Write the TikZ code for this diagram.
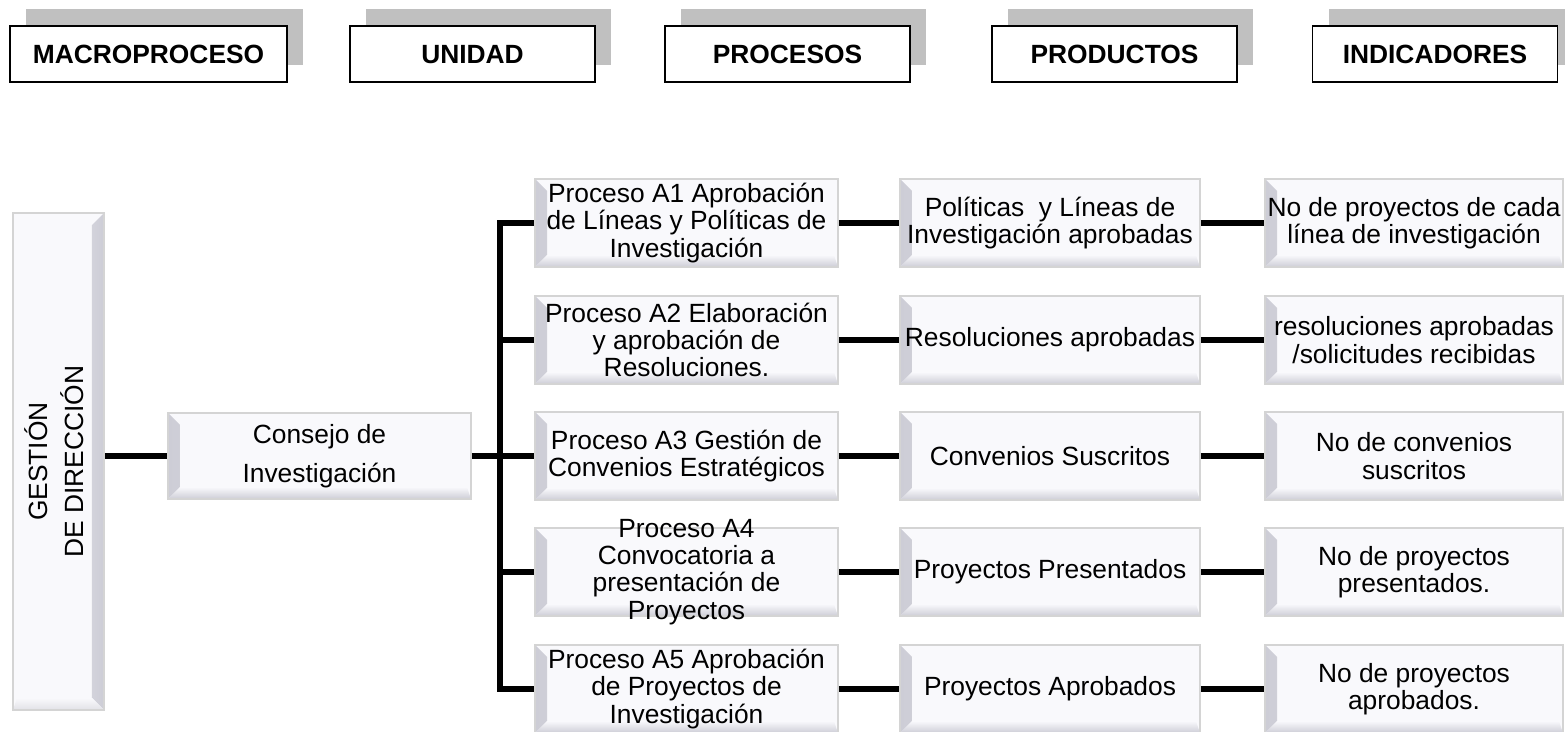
\documentclass[tikz,border=0pt]{standalone}
\usepackage{fontspec}
\setmainfont{Liberation Sans}
\usetikzlibrary{shadows}
\definecolor{boxfill}{HTML}{F9F9FC}
\definecolor{bevdark}{HTML}{CDCDD6}
\definecolor{boxedge}{HTML}{D4D4D4}
\definecolor{headshadow}{HTML}{C0C0C0}
\tikzset{
  headbox/.style={draw=black, line width=0.9pt, fill=white,
    font=\bfseries\fontsize{15}{18}\selectfont,
    text height=10.7pt, text depth=0pt,
    minimum width=4.9cm, minimum height=1.12cm,
    drop shadow={shadow xshift=0.32cm, shadow yshift=0.34cm,
      fill=headshadow, opacity=1, draw=none}},
  bevelbox/.style={draw=boxedge, line width=1pt, fill=boxfill, align=center,
    inner sep=1pt, font=\fontsize{15}{15.5}\selectfont,
    minimum width=6.06cm, minimum height=1.76cm,
    path picture={
      \shade[left color=bevdark, right color=boxfill]
        (path picture bounding box.north west) -- ++(0.24cm,-0.24cm)
        -- ([shift={(0.24cm,0.24cm)}]path picture bounding box.south west)
        -- (path picture bounding box.south west) -- cycle;
      \shade[bottom color=bevdark, top color=boxfill]
        (path picture bounding box.south west)
        -- ([shift={(0.24cm,0.24cm)}]path picture bounding box.south west)
        -- ([shift={(-0.08cm,0.24cm)}]path picture bounding box.south east)
        -- (path picture bounding box.south east) -- cycle;
    }},
  bevelv/.style={draw=boxedge, line width=1pt, fill=boxfill, align=center,
    inner sep=1pt, font=\fontsize{15}{20}\selectfont,
    minimum width=1.82cm, minimum height=9.94cm,
    path picture={
      \shade[right color=bevdark, left color=boxfill]
        (path picture bounding box.north east) -- ++(-0.24cm,-0.24cm)
        -- ([shift={(-0.24cm,0.24cm)}]path picture bounding box.south east)
        -- (path picture bounding box.south east) -- cycle;
      \shade[bottom color=bevdark!60, top color=boxfill]
        (path picture bounding box.south west)
        -- ([shift={(0.08cm,0.24cm)}]path picture bounding box.south west)
        -- ([shift={(-0.24cm,0.24cm)}]path picture bounding box.south east)
        -- (path picture bounding box.south east) -- cycle;
    }},
  link/.style={line width=3.2pt},
}
\begin{document}
\begin{tikzpicture}[x=0.02cm,y=-0.02cm]
\useasboundingbox (0,0) rectangle (1565,731);

\node[headbox, minimum width=5.54cm] (hmacro) at (148.5,54) {MACROPROCESO};
\node[headbox] (hunidad) at (472.5,54) {UNIDAD};
\node[headbox] (hproc) at (787.5,54) {PROCESOS};
\node[headbox] (hprod) at (1114.5,54) {PRODUCTOS};
\node[headbox] (hind) at (1435,54) {INDICADORES};

\node[bevelv] (gestion) at (58.5,461.5)
  {\rotatebox{90}{\begin{tabular}{@{}c@{}}GESTIÓN\\ DE DIRECCIÓN\end{tabular}}};
\node[bevelbox, minimum height=1.72cm, font=\fontsize{15}{22}\selectfont] (consejo) at (319.5,456)
  {Consejo de\\ Investigación};

\node[bevelbox] (procA1) at (686.5,223) {Proceso A1 Aprobación\\ de Líneas y Políticas de\\ Investigación};
\node[bevelbox] (procA2) at (686.5,340) {Proceso A2 Elaboración\\ y aprobación de\\ Resoluciones.};
\node[bevelbox] (procA3) at (686.5,456) {Proceso A3 Gestión de\\ Convenios Estratégicos};
\node[bevelbox, inner ysep=-0.25cm] (procA4) at (686.5,572) {Proceso A4\\ Convocatoria a\\ presentación de\\ Proyectos};
\node[bevelbox] (procA5) at (686.5,689) {Proceso A5 Aprobación\\ de Proyectos de\\ Investigación};

\node[bevelbox, minimum width=6cm] (prodA1) at (1050,223) {Políticas~ y Líneas de\\ Investigación aprobadas};
\node[bevelbox, minimum width=6cm] (prodA2) at (1050,340) {Resoluciones aprobadas};
\node[bevelbox, minimum width=6cm] (prodA3) at (1050,456) {Convenios Suscritos};
\node[bevelbox, minimum width=6cm] (prodA4) at (1050,572) {Proyectos Presentados};
\node[bevelbox, minimum width=6cm] (prodA5) at (1050,689) {Proyectos Aprobados};

\node[bevelbox, minimum width=5.96cm] (indA1) at (1414,223) {No de proyectos de cada\\ línea de investigación};
\node[bevelbox, minimum width=5.96cm] (indA2) at (1414,340) {resoluciones aprobadas\\ /solicitudes recibidas};
\node[bevelbox, minimum width=5.96cm] (indA3) at (1414,456) {No de convenios\\ suscritos};
\node[bevelbox, minimum width=5.96cm] (indA4) at (1414,572) {No de proyectos\\ presentados.};
\node[bevelbox, minimum width=5.96cm] (indA5) at (1414,689) {No de proyectos\\ aprobados.};

\coordinate (bus) at (500,456);
\draw[link] (gestion.east |- consejo.west) -- (consejo.west);
\draw[link] (consejo.east) -- (procA3.west);
\draw[link] (procA1.west) -- (bus |- procA1.west) -- (bus |- procA5.west) -- (procA5.west);
\draw[link] (bus |- procA2.west) -- (procA2.west);
\draw[link] (bus |- procA4.west) -- (procA4.west);
\foreach \i in {1,...,5}{
  \draw[link] (procA\i) -- (prodA\i);
  \draw[link] (prodA\i) -- (indA\i);
}
\end{tikzpicture}
\end{document}
